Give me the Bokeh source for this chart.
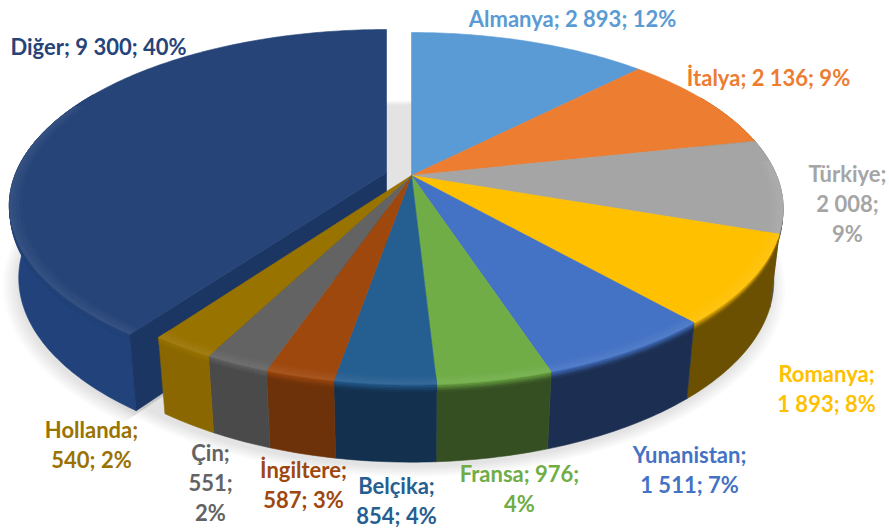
import math
from bokeh.plotting import figure
from bokeh.models import Range1d, ColumnDataSource
from bokeh.core.properties import value
from bokeh.embed import file_html
from bokeh.resources import INLINE

names = ["Almanya", "İtalya", "Türkiye", "Romanya", "Yunanistan", "Fransa", "Belçika", "İngiltere", "Çin", "Hollanda", "Diğer"]
values = [2893, 2136, 2008, 1893, 1511, 976, 854, 587, 551, 540, 9300]
top_colors = ["#5B9BD5", "#ED7D31", "#A5A5A5", "#FFC000", "#4472C4", "#70AD47", "#255E91", "#9E480E", "#636363", "#997300", "#264478"]
wall_colors = ["#2E4E6B", "#773F18", "#4F4F4F", "#6A5000", "#1C2F52", "#354F22", "#13304F", "#6E320A", "#4A4A4A", "#8A6700", "#21427A"]
label_lines = [["Almanya; 2 893; 12%"], ["İtalya; 2 136; 9%"], ["Türkiye;", "2 008;", "9%"], ["Romanya;", "1 893; 8%"],
               ["Yunanistan;", "1 511; 7%"], ["Fransa; 976;", "4%"], ["Belçika;", "854; 4%"], ["İngiltere;", "587; 3%"],
               ["Çin;", "551;", "2%"], ["Hollanda;", "540; 2%"], ["Diğer; 9 300; 40%"]]
label_x = [572, 768, 847, 826, 689, 519, 396, 303, 210, 91, 98]
label_y = [18, 77, 173, 373, 454, 473, 485, 469, 452, 429, 46]
LINE_H = 30

# perspective camera of the tilted pie
K = 0.1875
CX, CY, F, G = 411, 175, 365, 169.8
BF, BG, BY = F * 0.975, G * 1.03, 246.4
CUT_COLOR = "#1C3664"
WALL_FROM, WALL_TO = math.radians(60), math.radians(300)
RIM_FROM, RIM_TO = math.radians(85), math.radians(295)
MAIN = (0, 0, 1.0)


def proj(X, Y, f, g, y0):
    d = 1 + K * Y
    return CX + f * X / d, y0 - g * Y / d


def pt(th, r=1.0, off=MAIN, bottom=False):
    X, Y = off[2] * r * math.sin(th), r * math.cos(th)
    x, y = proj(X, Y, BF, BG, BY) if bottom else proj(X, Y, F, G, CY)
    return x + off[0], y + off[1]


def mix(c1, c2, t):
    a = [int(c1[i:i + 2], 16) for i in (1, 3, 5)]
    b = [int(c2[i:i + 2], 16) for i in (1, 3, 5)]
    return "#%02x%02x%02x" % tuple(round(u + (v - u) * t) for u, v in zip(a, b))


def arc(t0, t1, r=1.0, off=MAIN, bottom=False):
    n = max(2, int(abs(t1 - t0) / 0.015))
    return [pt(t0 + (t1 - t0) * i / n, r, off, bottom) for i in range(n + 1)]


xs, ys, cols = [], [], []


def add(points, color):
    xs.append([q[0] for q in points])
    ys.append([q[1] for q in points])
    cols.append(color)


def wall(t0, t1, color, top, off=MAIN):
    t0, t1 = max(t0, WALL_FROM), min(t1, WALL_TO)
    if t1 <= t0:
        return
    a, b = arc(t0, t1, 1, off), arc(t0, t1, 1, off, True)
    add(a + b[::-1], color)
    # soft crease between the top face and the wall
    steps = 5
    for s in range(steps):
        u0, u1 = 0.02 * s, 0.02 * (s + 1)
        m0 = [(p[0] + (q[0] - p[0]) * u0, p[1] + (q[1] - p[1]) * u0) for p, q in zip(a, b)]
        m1 = [(p[0] + (q[0] - p[0]) * u1, p[1] + (q[1] - p[1]) * u1) for p, q in zip(a, b)]
        add(m0 + m1[::-1], mix(top, color, (s + 0.5) / steps))


def face(t0, t1, color, off=MAIN):
    add([pt(0, 0, off)] + arc(t0, t1, 1, off), color)
    t0, t1 = max(t0, RIM_FROM), min(t1, RIM_TO)
    if t1 <= t0:
        return
    for s in range(4):
        r0, r1 = 0.965 + 0.00875 * s, 0.965 + 0.00875 * (s + 1)
        w = (s + 0.5) / 4
        add(arc(t0, t1, r0, off) + arc(t0, t1, r1, off)[::-1], mix(color, "#ffffff", 0.08 * w))


total = sum(values)
edges = [0.0]
for v in values:
    edges.append(edges[-1] + v / total * 2 * math.pi)

# Diğer is pulled out along its middle direction
mid = (edges[10] + edges[11]) / 2
OUT = (26.3 * math.sin(mid), -9.7 * math.cos(mid), 1.015)

p = figure(width=889, height=528, x_range=Range1d(0, 889), y_range=Range1d(528, 0),
           output_backend="svg", toolbar_location=None, min_border=0,
           outline_line_color=None, background_fill_color="white", border_fill_color="white")
p.axis.visible = False
p.grid.visible = False

# soft ground shadow
sx, sy = [], []
for i in range(7):
    r = 1.0 + 0.006 * i
    main_pts = arc(0, 2 * math.pi, r, MAIN, True)
    out_pts = [pt(edges[10], 0.5, OUT, True)] + arc(edges[10], WALL_TO, r, OUT, True)
    for pts in (main_pts, out_pts):
        sx.append([q[0] - 2 for q in pts])
        sy.append([q[1] + 5 for q in pts])
p.patches(sx, sy, fill_color="#000000", fill_alpha=0.014, line_color=None)

# exploded slice
i = 10
wall(edges[i], edges[i + 1], wall_colors[i], top_colors[i], OUT)
c = edges[i]
add([pt(0, 0, OUT), pt(c, 1, OUT), pt(c, 1, OUT, True), pt(0, 0, OUT, True)], CUT_COLOR)
face(edges[i], edges[i + 1], top_colors[i], OUT)

# remaining slices: walls first, then top faces
for i in range(10):
    wall(edges[i], edges[i + 1], wall_colors[i], top_colors[i])
for i in range(10):
    face(edges[i], edges[i + 1], top_colors[i])

src = ColumnDataSource(dict(xs=xs, ys=ys, c=cols))
p.patches("xs", "ys", source=src, fill_color="c", line_color="c", line_width=0.6)

for name_lines, x, y, col in zip(label_lines, label_x, label_y, top_colors):
    for j, line in enumerate(name_lines):
        p.text([x], [y + j * LINE_H], text=[line], text_color=col, text_font=value("Lato"),
               text_font_style="bold", text_font_size="22px", text_align="center", text_baseline="middle")

open("out.html", "w").write(file_html(p, INLINE))
